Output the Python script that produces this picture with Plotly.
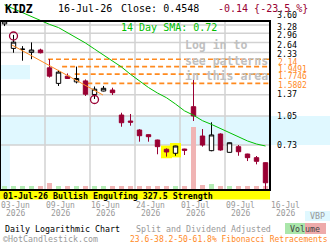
import math
import plotly.graph_objects as go

# ---------------- data ----------------
symbol = "KIDZ"
dates = ["03-Jun", "04-Jun", "05-Jun", "08-Jun", "09-Jun", "10-Jun", "11-Jun", "12-Jun", "15-Jun", "16-Jun",
         "17-Jun", "18-Jun", "22-Jun", "23-Jun", "24-Jun", "25-Jun", "26-Jun", "29-Jun", "30-Jun", "01-Jul",
         "02-Jul", "06-Jul", "07-Jul", "08-Jul", "09-Jul", "10-Jul", "13-Jul", "14-Jul", "15-Jul", "16-Jul"]
opens = [3.33, 2.45, 2.42, 2.33, 2.40, 1.92, 1.58, 1.73, 1.61, 1.63,
         1.375, 1.436, 1.454, 1.063, 0.986, 0.881, 0.831, 0.777, 0.692, 0.658,
         0.694, 1.18, 0.817, 0.680, 0.838, 0.666, 0.715, 0.652, 0.623, 0.585]
highs = [3.45, 2.90, 2.52, 2.64, 2.44, 2.14, 1.87, 1.79, 1.95, 1.66,
         1.52, 1.53, 1.497, 1.094, 1.077, 0.889, 0.833, 0.78, 0.700, 0.723,
         0.696, 1.66, 0.892, 0.970, 0.845, 0.753, 0.730, 0.654, 0.636, 0.587]
lows = [3.24, 2.32, 2.10, 2.14, 2.30, 1.70, 1.53, 1.67, 1.58, 1.35,
        1.30, 1.43, 1.366, 0.918, 0.930, 0.761, 0.761, 0.650, 0.631, 0.638,
        0.644, 0.986, 0.715, 0.675, 0.680, 0.664, 0.638, 0.597, 0.573, 0.419]
closes = [3.45, 2.65, 2.425, 2.40, 2.32, 1.73, 1.82, 1.68, 1.68, 1.38,
          1.47, 1.486, 1.406, 0.965, 0.972, 0.820, 0.810, 0.715, 0.669, 0.721,
          0.683, 1.05, 0.730, 0.828, 0.686, 0.751, 0.671, 0.623, 0.595, 0.4548]
volumes = [1.3, 1.3, 1.3, 1.3, 1.3, 2.5, 1.3, 1.3, 1.3, 1.3,
           1.3, 1.3, 1.3, 1.3, 1.3, 1.3, 1.3, 1.3, 1.3, 1.3,
           1.3, 22.5, 1.7, 2.3, 1.3, 1.3, 1.3, 1.3, 1.3, 1.3]
sma14 = [4.23, 4.03, 3.85, 3.65, 3.46, 3.31, 3.18, 2.99, 2.81, 2.62,
         2.43, 2.26, 2.09, 1.94, 1.77, 1.62, 1.50, 1.40, 1.32, 1.22,
         1.12, 1.06, 0.99, 0.945, 0.897, 0.845, 0.803, 0.768, 0.739, 0.721]

price_ticks = [3.60, 3.28, 2.96, 2.64, 2.33, 1.37, 1.05, 0.73, 0.41]
price_tick_text = ["3.60", "3.28", "2.96", "2.64", "2.33", "1.37", "1.05", "0.73", "0.41"]
grid_prices = [3.28, 2.96, 2.64, 2.33, 1.37, 1.05, 0.73]

fib_levels = [2.14, 1.9491, 1.7746, 1.5802]
fib_text = ["2.14", "1.9491", "1.7746", "1.5802"]
fib_start = [4.83, 6.4, 7.8, 9.2]

date_tick_pos = [-0.5, 4.5, 9.5, 14.5, 19.5, 24.5, 29.5]
date_tick_text = ["03-Jun", "09-Jun", "16-Jun", "24-Jun", "01-Jul", "09-Jul", "16-Jul"]
year_text = "2026"

trend_x = [0.83, 10.94]
trend_y = [2.556, 1.366]
circle_idx = [1, 10]
circle_val = [2.861, 1.291]
pattern_idx = [18, 19]

vbp_lo = [0.73, 1.663, 0.4154]
vbp_hi = [1.05, 1.99, 0.73]
vbp_vol = [100.0, 9.1, 3.0]   # percent of max volume-at-price

last_close = 0.4548
change = -0.14
change_pct = -23.5
sma_last = 0.72

# ---------------- styles ----------------
W, H = 330, 245
PW, PH = 270, 190          # plot area (pixels)
FRAME_TOP = 21
FONT = "DejaVu Sans Mono"
RED = "#990033"
GREEN_LINE = "#00c000"
ORANGE = "#ff8a1f"
GRID = "#d2d2d2"
BLUE = "#e0f8ff"
GRAY = "#999999"
VOL_UP = "#b4ecb4"
VOL_DN = "#f0b4b4"

LOG_TOP = 0.65249
LOG_BOT = -0.38154

# label nudges (pixels, + = up) so labels sit like the reference
tick_nudge = [2.7, -1.6, -1.4, -2.6, -1.9, 0.5, 0, 0, -0.7]
fib_nudge = [-3.1, -2.7, -1.9, -2.3]

x = list(range(len(dates)))


def py(p):
    return (PH - p) / PH


def px(p):
    return p / PW


fig = go.Figure()

vol_colors = [VOL_UP if c > o else VOL_DN for o, c in zip(opens, closes)]
fig.add_trace(go.Bar(x=x, y=volumes, marker=dict(color=vol_colors, line=dict(width=0)),
                     width=0.63, xaxis="x", yaxis="y", hoverinfo="skip"))

fig.add_trace(go.Scatter(x=x, y=sma14, mode="lines", line=dict(color=GREEN_LINE, width=1),
                         xaxis="x", yaxis="y2", hoverinfo="skip"))

fig.add_trace(go.Scatter(x=trend_x, y=trend_y, mode="lines", line=dict(color=ORANGE, width=1),
                         xaxis="x", yaxis="y2", hoverinfo="skip"))

fig.add_trace(go.Candlestick(
    x=x, open=opens, high=highs, low=lows, close=closes,
    increasing=dict(line=dict(color="black", width=1), fillcolor="white"),
    decreasing=dict(line=dict(color=RED, width=1), fillcolor=RED),
    whiskerwidth=0, xaxis="x", yaxis="y2", hoverinfo="skip"))

fig.add_trace(go.Scatter(x=circle_idx, y=circle_val, mode="markers",
                         marker=dict(symbol="circle-open", size=8, color=RED, line=dict(width=1.3, color=RED)),
                         xaxis="x", yaxis="y2", hoverinfo="skip"))

shapes = []
# volume by price bands
for lo, hi, v in zip(vbp_lo, vbp_hi, vbp_vol):
    shapes.append(dict(type="rect", xref="paper", yref="y2", x0=0, x1=v / 100 * (W / PW),
                       y0=lo, y1=hi, fillcolor=BLUE, line=dict(width=0), layer="below"))
# horizontal gridlines
for g in grid_prices:
    shapes.append(dict(type="line", xref="paper", yref="y2", x0=0, x1=1, y0=g, y1=g,
                       line=dict(color=GRID, width=1.5), layer="below"))
# vertical gridlines
for gx in date_tick_pos[1:-1]:
    shapes.append(dict(type="line", xref="x", yref="paper", x0=gx, x1=gx, y0=0, y1=py(FRAME_TOP),
                       line=dict(color=GRID, width=1.5), layer="below"))
# pattern highlight
for i in pattern_idx:
    shapes.append(dict(type="rect", xref="x", yref="y2", x0=i - 0.61, x1=i + 0.61,
                       y0=lows[i] * 0.98, y1=highs[i] * 1.035, fillcolor="#ffff00",
                       line=dict(width=0), layer="below"))
# fibonacci lines
for lv, xs in zip(fib_levels, fib_start):
    shapes.append(dict(type="line", xref="x", yref="y2", x0=xs, x1=29.9, y0=lv, y1=lv,
                       line=dict(color=ORANGE, width=1.6, dash="5px,3px"), layer="below"))
# pattern strip below the plot
shapes.append(dict(type="rect", xref="paper", yref="paper", x0=0, x1=1, y0=py(199.5), y1=py(190),
                   fillcolor="#ffff00", line=dict(width=0), layer="above"))
# frame
shapes.append(dict(type="rect", xref="paper", yref="paper", x0=0, x1=1, y0=0, y1=py(FRAME_TOP),
                   line=dict(color="black", width=2), fillcolor="rgba(0,0,0,0)", layer="above"))
# legend boxes
shapes.append(dict(type="rect", xref="paper", yref="paper", x0=px(305), x1=px(330), y0=py(221), y1=py(211),
                   fillcolor=BLUE, line=dict(width=0)))
shapes.append(dict(type="rect", xref="paper", yref="paper", x0=px(285), x1=px(305), y0=py(234), y1=py(223),
                   fillcolor="#aae6aa", line=dict(width=0)))
shapes.append(dict(type="rect", xref="paper", yref="paper", x0=px(305), x1=px(326), y0=py(234), y1=py(223),
                   fillcolor="#eeaaaa", line=dict(width=0)))

ann = []


def txt(s, x0, y0, size, color, anchor="left"):
    ann.append(dict(text=s, x=px(x0), y=py(y0), xref="paper", yref="paper", xanchor=anchor,
                    yanchor="middle", showarrow=False, font=dict(family=FONT, size=size, color=color)))


txt("<b>%s</b>" % symbol, 3, 8.5, 11.5, "black")
txt("%s-26" % dates[-1], 56, 8.5, 10, "black")
txt("Close: %.4f" % last_close, 119, 8.5, 10, "black")
txt("%.2f {%.1f %%}" % (change, change_pct), 216, 8.5, 10, RED)
txt("14 Day SMA: %.2f" % sma_last, 119, 27, 10, GREEN_LINE)
txt("<b>Log in to</b>", 183, 45, 11.5, "#c0c0c0")
txt("<b>see patterns</b>", 183, 60.5, 11.5, "#c0c0c0")
txt("<b>in this area</b>", 183, 75.5, 11.5, "#c0c0c0")
txt("<b>01-Jul-26 Bullish Engulfing 327.5 Strength</b>", 0.5, 195.5, 8.3, "black")
txt("Daily Logarithmic Chart", 3, 229, 8.3, "black")
txt("Split and Dividend Adjusted", 134, 229, 8.3, GRAY)
txt("\u00a9HotCandlestick.com", 1, 239, 8.3, GRAY)
txt("23.6-38.2-50-61.8% Fibonacci Retracements", 329.5, 239, 8, ORANGE, "right")
txt("VBP", 317.5, 216.5, 8.3, GRAY, "center")
txt("Volume", 305, 229, 8.3, "#444444", "center")

for v, t, n in zip(price_ticks, price_tick_text, tick_nudge):
    ann.append(dict(text=t, x=1, xref="paper", xshift=5, xanchor="left", y=math.log10(v), yref="y2",
                    yshift=n, yanchor="middle", showarrow=False,
                    font=dict(family=FONT, size=8.3, color="black")))
for v, t, n in zip(fib_levels, fib_text, fib_nudge):
    ann.append(dict(text=t, x=1, xref="paper", xshift=6, xanchor="left", y=math.log10(v), yref="y2",
                    yshift=n, yanchor="middle", showarrow=False,
                    font=dict(family=FONT, size=8, color=ORANGE)))
for gx, t in zip(date_tick_pos, date_tick_text):
    for line_text, yy in ((t, 205.7), (year_text, 213.3)):
        ann.append(dict(text=line_text, x=gx, xref="x", xshift=15, xanchor="center", y=py(yy), yref="paper",
                        yanchor="middle", showarrow=False, font=dict(family=FONT, size=8, color=GRAY)))

fig.update_layout(
    width=W, height=H, margin=dict(l=0, r=W - PW, t=0, b=H - PH),
    paper_bgcolor="white", plot_bgcolor="white", showlegend=False,
    xaxis=dict(range=[-0.5, 29.5], showgrid=False, zeroline=False, showticklabels=False,
               showline=False, ticks="", rangeslider=dict(visible=False), fixedrange=True),
    yaxis=dict(range=[0, PH / 2.8], visible=False, showgrid=False, zeroline=False, fixedrange=True),
    yaxis2=dict(type="log", range=[LOG_BOT, LOG_TOP], overlaying="y", visible=False,
                showgrid=False, zeroline=False, fixedrange=True),
    shapes=shapes, annotations=ann, bargap=0, boxgap=0.3,
)

fig.write_html("out.html")
